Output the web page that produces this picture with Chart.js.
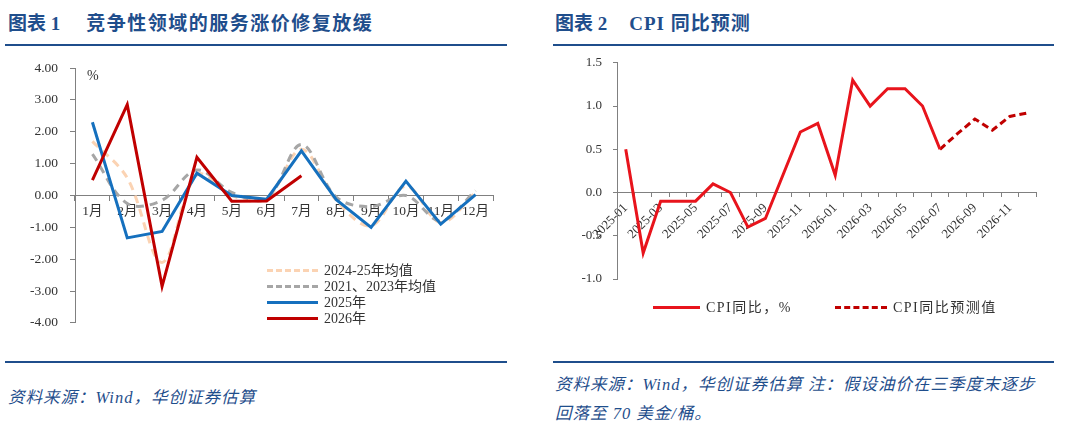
<!DOCTYPE html>
<html>
<head>
<meta charset="utf-8">
<script src="https://cdn.jsdelivr.net/npm/chart.js@4.4.1/dist/chart.umd.min.js"></script>
<style>
  body { margin: 0; background: #fff; width: 1080px; height: 426px; position: relative; overflow: hidden;
         font-family: 'Liberation Serif', 'Noto Sans CJK SC', serif; }
  .title { position: absolute; top: 8px; font-size: 19px; font-weight: bold; color: #1f4e8c; white-space: nowrap; }
  .rule { position: absolute; height: 2px; background: #1f4e8c; }
  .src { position: absolute; font-size: 16.5px; font-style: italic; color: #1f4e8c; white-space: nowrap; letter-spacing: 1px; }
  .box { position: absolute; }
  .legend { position: absolute; font-size: 14px; color: #333; }
  .legend .item { position: absolute; white-space: nowrap; height: 16px; line-height: 16px; }
  .legend .swatch { position: absolute; top: 6px; left: 0; height: 0; }
  .unit { position: absolute; font-size: 14px; color: #333; }
</style>
</head>
<body>
<div class="title" style="left:8px;">图表 1<span style="margin-left:26px;letter-spacing:1.5px;">竞争性领域的服务涨价修复放缓</span></div>
<div class="rule" style="left:5px;width:502px;top:44px;"></div>
<div class="title" style="left:555px;">图表 2<span style="margin-left:22px;letter-spacing:1px;">CPI 同比预测</span></div>
<div class="rule" style="left:553px;width:501px;top:44px;"></div>

<div class="box" style="left:0;top:48px;width:520px;height:295px;"><canvas id="left"></canvas></div>
<div class="box" style="left:550px;top:44px;width:520px;height:290px;"><canvas id="right"></canvas></div>

<div class="unit" style="left:87px;top:68px;">%</div>

<div class="legend" id="legendLeft" style="left:267px;top:263px;"></div>
<div class="legend" id="legendRight" style="left:653px;top:300px;letter-spacing:1.5px;"></div>

<div class="rule" style="left:5px;width:502px;top:361px;"></div>
<div class="rule" style="left:553px;width:501px;top:361px;"></div>
<div class="src" style="left:8px;top:384px;">资料来源：Wind，华创证券估算</div>
<div class="src" style="left:555px;top:371px;">资料来源：Wind，华创证券估算 注：假设油价在三季度末逐步</div>
<div class="src" style="left:555px;top:400px;">回落至 70 美金/桶。</div>

<script>
// ---- 图表1 data ----
const months = ['1月', '2月', '3月', '4月', '5月', '6月', '7月', '8月', '9月', '10月', '11月', '12月'];
const avg2425 = [1.7, 0.55, -2.1, 0.65, 0.0, -0.1, 1.45, -0.15, -0.95, 0.3, -0.85, 0.1];
const avg2123 = [1.3, -0.25, -0.15, 0.8, 0.1, -0.1, 1.6, -0.05, -0.35, 0.0, -0.8, 0.15];
const y2025 = [2.3, -1.33, -1.13, 0.7, 0.0, -0.12, 1.4, -0.13, -1.0, 0.45, -0.9, 0.03];
const y2026 = [0.48, 2.85, -2.85, 1.2, -0.18, -0.17, 0.62, null, null, null, null, null];

// ---- 图表2 data ----
const cpiMonths = ['2025-01', '2025-02', '2025-03', '2025-04', '2025-05', '2025-06', '2025-07', '2025-08',
                   '2025-09', '2025-10', '2025-11', '2025-12', '2026-01', '2026-02', '2026-03', '2026-04',
                   '2026-05', '2026-06', '2026-07', '2026-08', '2026-09', '2026-10', '2026-11', '2026-12'];
const cpiActual = [0.5, -0.7, -0.1, -0.1, -0.1, 0.1, 0.0, -0.4, -0.3, 0.2, 0.7, 0.8,
                   0.2, 1.3, 1.0, 1.2, 1.2, 1.0, 0.5, null, null, null, null, null];
const cpiForecast = [null, null, null, null, null, null, null, null, null, null, null, null,
                     null, null, null, null, null, null, 0.5, 0.68, 0.85, 0.72, 0.88, 0.92];

const FONT = "'Liberation Serif', 'Noto Sans CJK SC', serif";
const AXIS = '#808080';

const leftSeries = [
    { label: '2024-25年均值', data: avg2425, color: '#fbd3b3', dash: [8, 6], tension: 0.35 },
    { label: '2021、2023年均值', data: avg2123, color: '#a6a6a6', dash: [8, 6], tension: 0.35 },
    { label: '2025年', data: y2025, color: '#1570be', dash: [], tension: 0 },
    { label: '2026年', data: y2026, color: '#c00000', dash: [], tension: 0 }
];

function buildLegend(el, items, vertical, gap) {
    items.forEach((it, i) => {
        const d = document.createElement('div');
        d.className = 'item';
        if (vertical) { d.style.top = (i * gap) + 'px'; d.style.left = '0px'; }
        else { d.style.left = (i * gap) + 'px'; d.style.top = '0px'; }
        const sw = document.createElement('div');
        sw.className = 'swatch';
        sw.style.width = it.w + 'px';
        sw.style.borderTop = '3px ' + (it.dash.length ? 'dashed ' : 'solid ') + it.color;
        d.appendChild(sw);
        const t = document.createElement('span');
        t.textContent = it.label;
        t.style.marginLeft = (it.w + 6) + 'px';
        d.appendChild(t);
        el.appendChild(d);
    });
}

buildLegend(document.getElementById('legendLeft'),
    leftSeries.map(s => ({ label: s.label, color: s.color, dash: s.dash, w: 51 })), true, 16);

new Chart(document.getElementById('left'), {
    type: 'line',
    data: {
        labels: months,
        // reversed so 2026 draws on top
        datasets: leftSeries.slice().reverse().map(s => ({
            label: s.label,
            data: s.data,
            borderColor: s.color,
            borderWidth: 3,
            borderDash: s.dash,
            tension: s.tension,
            pointRadius: 0,
            fill: false,
            spanGaps: false
        }))
    },
    options: {
        responsive: true,
        maintainAspectRatio: false,
        animation: false,
        layout: { padding: { top: 0, right: 27, bottom: 0, left: 0 } },
        plugins: { legend: { display: false }, tooltip: { enabled: false } },
        scales: {
            x: {
                position: { y: 0 },
                offset: true,
                afterFit: s => { s.height = 0; },
                grid: { offset: true, drawOnChartArea: false, drawTicks: true, tickLength: 5, color: AXIS },
                border: { color: AXIS, width: 1 },
                ticks: { font: { family: FONT, size: 13.5 }, color: '#333', padding: 3, maxRotation: 0, autoSkip: false }
            },
            y: {
                min: -4, max: 4,
                afterFit: s => { s.width = 75; },
                grid: { drawOnChartArea: false, drawTicks: true, tickLength: 5, color: AXIS },
                border: { color: AXIS, width: 1 },
                ticks: { stepSize: 1, padding: 12, font: { family: FONT, size: 13.5 }, color: '#333',
                         callback: v => v.toFixed(2) }
            }
        }
    }
});

buildLegend(document.getElementById('legendRight'), [
    { label: 'CPI同比，%', color: '#e8141c', dash: [], w: 47 },
    { label: 'CPI同比预测值', color: '#c00000', dash: [7, 4], w: 52 }
], false, 182);

new Chart(document.getElementById('right'), {
    type: 'line',
    data: {
        labels: cpiMonths,
        datasets: [
            { label: 'CPI同比，%', data: cpiActual, borderColor: '#e8141c', borderWidth: 3,
              pointRadius: 0, fill: false, tension: 0 },
            { label: 'CPI同比预测值', data: cpiForecast, borderColor: '#c00000', borderWidth: 3,
              borderDash: [7, 4], pointRadius: 0, fill: false, tension: 0 }
        ]
    },
    options: {
        responsive: true,
        maintainAspectRatio: false,
        animation: false,
        layout: { padding: { top: 0, right: 34, bottom: 55, left: 0 } },
        plugins: { legend: { display: false }, tooltip: { enabled: false } },
        scales: {
            x: {
                position: { y: 0 },
                offset: true,
                afterFit: s => { s.height = 0; },
                grid: { offset: true, drawOnChartArea: false, drawTicks: true, tickLength: 4, color: AXIS },
                border: { color: AXIS, width: 1 },
                ticks: { font: { family: FONT, size: 13 }, color: '#333', padding: 4,
                         minRotation: 45, maxRotation: 45, autoSkip: false,
                         callback: function(v, i) { return i % 2 === 0 ? this.getLabelForValue(v) : ''; } }
            },
            y: {
                min: -1, max: 1.5,
                afterFit: s => { s.width = 67; },
                grid: { drawOnChartArea: false, drawTicks: true, tickLength: 4, color: AXIS },
                border: { color: AXIS, width: 1 },
                ticks: { stepSize: 0.5, padding: 11, font: { family: FONT, size: 13 }, color: '#333',
                         callback: v => v.toFixed(1) }
            }
        }
    }
});
</script>
</body>
</html>
